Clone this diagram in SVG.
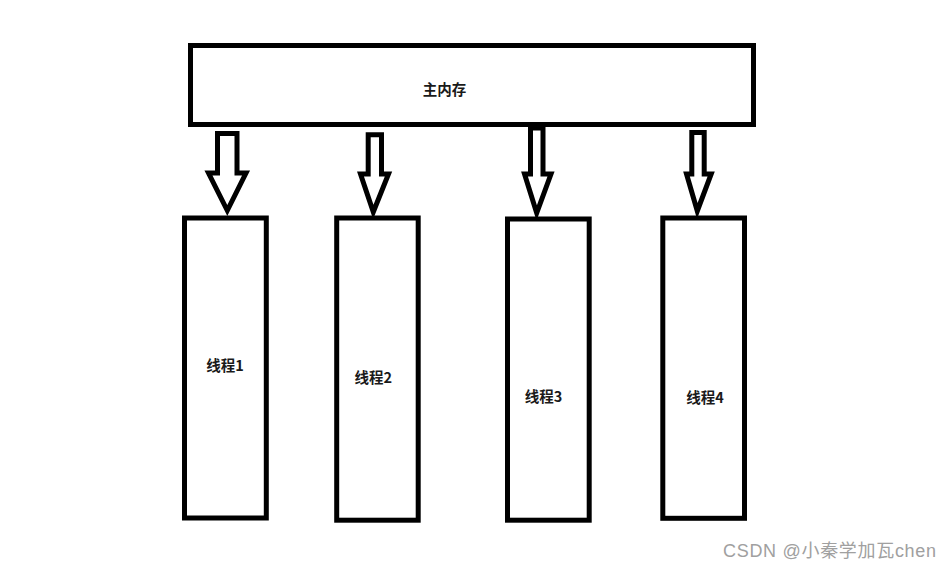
<svg xmlns="http://www.w3.org/2000/svg" width="952" height="569" viewBox="0 0 952 569">
<style>
.box{fill:#fff;stroke:#000;stroke-width:5}
.arr{fill:#fff;stroke:#000;stroke-width:5;stroke-linejoin:miter}
.lbl{font-family:"Noto Sans CJK SC","Liberation Sans",sans-serif;font-size:14.5px;font-weight:bold;fill:#1a1a1a;text-anchor:middle}
.wm{font-family:"Liberation Sans","Noto Sans CJK SC",sans-serif;font-size:18px;fill:#a0a0a0}
</style>
<rect width="952" height="569" fill="#fff"/>
<g id="connectors">
<polygon class="arr" points="217.5,133.5 237,133.5 237,173 246,173 227.3,210.5 208.5,173 217.5,173"/>
<polygon class="arr" points="368.2,134.8 381.5,134.8 381.5,174 388.5,174 373.3,212 360.5,174 368.2,174"/>
<polygon class="arr" points="530.5,128 543,128 543,174 551,174 536.7,213 524.5,174 530.5,174"/>
<polygon class="arr" points="691.8,132.5 704.2,132.5 704.2,174 711.2,174 697.3,211 686.5,174 691.8,174"/>
</g>
<g id="main-memory">
<rect class="box" x="190.5" y="45.5" width="563" height="79"/>
<text class="lbl" x="444.5" y="95">主内存</text>
</g>
<g id="thread1">
<rect class="box" x="184.5" y="218" width="81.8" height="300"/>
<text class="lbl" x="225" y="371">线程1</text>
</g>
<g id="thread2">
<rect class="box" x="336.7" y="218" width="81.5" height="302.2"/>
<text class="lbl" x="373.3" y="383">线程2</text>
</g>
<g id="thread3">
<rect class="box" x="507.5" y="219" width="81.7" height="301.2"/>
<text class="lbl" x="543.5" y="401.5">线程3</text>
</g>
<g id="thread4">
<rect class="box" x="662.8" y="218" width="81.7" height="300.3"/>
<text class="lbl" x="705" y="403">线程4</text>
</g>
<text class="wm" x="723" y="557" textLength="213">CSDN @小秦学加瓦chen</text>
</svg>
